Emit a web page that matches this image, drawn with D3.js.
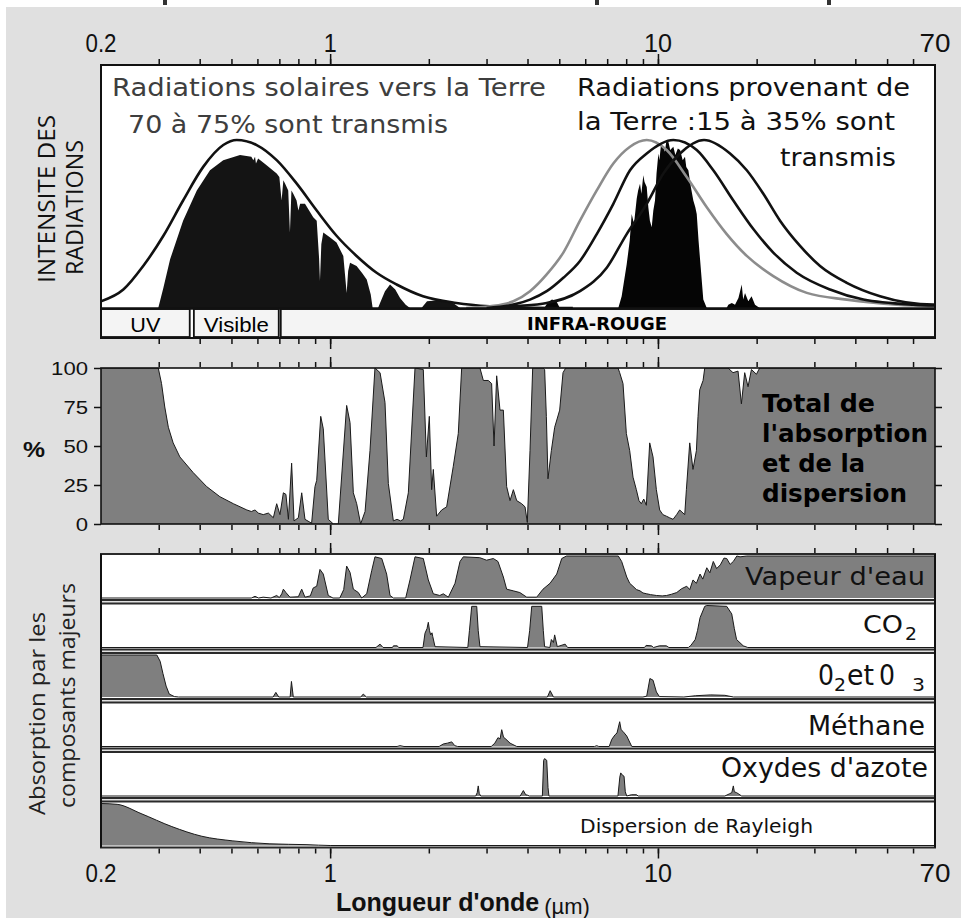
<!DOCTYPE html>
<html><head><meta charset="utf-8">
<script src="https://cdn.jsdelivr.net/npm/d3@7"></script>
<style>body{margin:0;background:#fff}svg{display:block}</style>
</head><body><svg id="c" width="961" height="918"></svg>
<script>
// ---------------- DATA (wavelength in µm, value in % of panel height) ----------------
const majorTicks = [0.2, 1, 10, 70];
const minorTicks = [0.3,0.4,0.5,0.6,0.7,0.8,0.9,1,2,3,4,5,6,7,8,9,10,20,30,40,50,60];
const longTicks = [1, 10];
const percentTicks = [0, 25, 50, 75, 100];
const bandNames = ["UV", "Visible", "INFRA-ROUGE"];
const bandStart = [0.2, 0.384, 0.707];
const bandEnd = [0.373, 0.697, 70];

const solarEnvelope = [[0.2,4],[0.234,11],[0.269,25],[0.31,43],[0.356,64],[0.41,84],[0.472,97],[0.519,100],[0.597,97],[0.687,88],[0.791,74],[0.91,58],[1.046,43],[1.204,31],[1.386,21],[1.595,14],[1.92,7],[2.428,3],[3.067,1],[3.876,0.3],[5.5,0]];
const solarTransmitted = [[0.299,0],[0.31,12],[0.325,29],[0.356,52],[0.392,70],[0.43,82],[0.472,88],[0.531,91],[0.575,90],[0.583,88],[0.59,90],[0.594,86],[0.603,89],[0.64,85],[0.687,80],[0.70,78],[0.711,64],[0.72,76],[0.729,74],[0.745,70],[0.754,45],[0.762,70],[0.772,68],[0.79,64],[0.80,58],[0.81,62],[0.838,62],[0.888,54],[0.91,52],[0.925,30],[0.931,16],[0.94,38],[0.953,45],[1.0,42],[1.046,39],[1.097,31],[1.11,20],[1.123,9],[1.135,22],[1.15,27],[1.204,25],[1.25,21],[1.293,17],[1.33,8],[1.348,0],[1.40,0],[1.42,3],[1.47,10],[1.523,14],[1.58,11],[1.634,6],[1.70,2],[1.752,0],[1.9,0],[1.975,4],[2.1,4.5],[2.25,4],[2.371,3],[2.49,0]];
const earthGray = [[2.6,0],[3.075,1],[3.622,4],[4.071,10],[4.578,20],[5.145,33],[5.783,52],[6.506,70],[7.309,86],[8.218,96],[9.242,100],[10.63,94],[12.24,78],[14.09,60],[16.21,44],[18.66,31],[22.48,19],[28.44,9],[37.66,5],[53.5,2],[70,1]];
const earthMid = [[3.0,0],[3.622,2],[4.071,5],[4.578,10],[5.145,18],[5.783,28],[6.506,44],[7.309,62],[8.218,82],[9.242,92],[11.14,100],[13.13,94],[14.75,82],[16.98,64],[19.54,47],[22.48,33],[26.5,21],[33.49,11],[42.32,5],[60.12,2],[70,1.5]];
const earthWarm = [[3.2,0],[3.622,1],[4.578,3],[5.783,10],[6.979,24],[8.029,44],[9.242,62],[10.38,80],[11.68,92],[13.82,100],[16.59,92],[18.66,82],[20.96,68],[23.57,52],[27.13,37],[31.22,25],[37.66,15],[47.58,7],[69.2,2],[70,2]];
const earthTransmitted = [[4.5,0],[4.6,3],[4.75,5],[4.9,4],[5.02,0],[7.569,0],[7.75,7],[8.029,26],[8.2,40],[8.316,56],[8.45,50],[8.613,65],[8.7,70],[8.815,74],[8.9,68],[9.022,79],[9.1,75],[9.242,72],[9.346,60],[9.45,52],[9.57,48],[9.68,58],[9.795,64],[9.9,80],[10.03,92],[10.1,88],[10.2,96],[10.38,96],[10.5,93],[10.6,99],[10.76,99],[10.9,94],[11.14,96],[11.3,91],[11.5,95],[11.68,94],[11.9,88],[12.09,90],[12.2,84],[12.38,82],[12.6,72],[12.82,64],[13.0,60],[13.13,56],[13.3,40],[13.44,29],[13.75,5],[14.09,0],[16.2,0],[16.39,2],[16.8,3],[17.18,2],[17.6,6],[18.01,14],[18.2,5],[18.43,9],[18.86,4],[19.3,7],[19.77,2],[20.43,0]];

const totalAbsorption = [[0.2,100],[0.299,100],[0.306,90],[0.313,75],[0.321,62],[0.332,52],[0.348,43],[0.382,33],[0.42,24],[0.461,17.5],[0.507,13],[0.557,9],[0.575,8],[0.59,9],[0.604,7],[0.625,6],[0.648,7],[0.671,4],[0.687,13],[0.703,6],[0.72,20],[0.733,19],[0.746,3],[0.763,39],[0.776,2],[0.80,4],[0.819,20],[0.838,3],[0.878,0.5],[0.899,24],[0.91,28],[0.936,69],[0.953,61],[0.987,3],[1.023,0],[1.059,0],[1.123,76],[1.15,65],[1.177,20],[1.205,13],[1.239,0],[1.278,8],[1.323,47],[1.37,100],[1.42,97],[1.47,78],[1.505,26],[1.559,2],[1.60,3],[1.64,2],[1.672,3],[1.732,20],[1.815,100],[1.924,99],[1.966,43],[2.007,69],[2.04,22],[2.064,35],[2.113,5],[2.189,9],[2.267,11],[2.375,37],[2.46,58],[2.519,100],[2.864,100],[2.933,92],[3.037,92],[3.109,90],[3.162,50],[3.221,95],[3.297,73],[3.376,73],[3.455,24],[3.538,15],[3.622,22],[3.707,15],[3.84,13],[3.931,11],[3.995,1],[4.071,47],[4.148,100],[4.46,100],[4.512,99],[4.566,69],[4.619,29],[4.729,47],[4.841,62],[5.014,73],[5.133,97],[5.23,100],[7.553,100],[7.642,97],[7.823,90],[8.009,58],[8.199,47],[8.393,30],[8.592,22],[8.75,15],[8.898,13],[9.05,16],[9.217,12],[9.436,52],[9.659,43],[9.888,22],[10.12,9],[10.35,6],[10.61,5],[10.85,4],[11.12,3],[11.4,6],[11.65,9],[12.07,6],[12.21,22],[12.5,52],[12.79,35],[13.1,47],[13.25,69],[13.41,86],[13.73,92],[13.89,100],[16.36,100],[16.94,97],[17.55,98],[17.97,77],[18.39,97],[18.83,88],[19.28,99],[19.97,96],[20.43,100],[70,100]];

const waterVapour = [[0.2,0],[0.575,0],[0.59,4],[0.605,0],[0.625,2],[0.66,0],[0.687,6],[0.70,1],[0.712,10],[0.72,21],[0.733,13],[0.754,2],[0.80,3],[0.819,21],[0.838,2],[0.87,5],[0.888,24],[0.91,28],[0.931,68],[0.953,57],[0.987,6],[1.02,0],[1.07,0],[1.10,20],[1.123,76],[1.15,61],[1.177,21],[1.219,13],[1.248,0],[1.293,10],[1.339,65],[1.37,98],[1.437,94],[1.487,57],[1.523,6],[1.56,0],[1.70,0],[1.752,43],[1.815,98],[1.924,94],[1.993,43],[2.064,10],[2.16,6],[2.214,10],[2.294,2],[2.404,35],[2.49,87],[2.548,98],[2.86,96],[3.0,90],[3.146,94],[3.25,87],[3.376,50],[3.455,21],[3.622,17],[3.79,13],[3.978,2],[4.267,2],[4.46,21],[4.686,35],[4.912,57],[5.087,94],[5.26,100],[7.569,100],[7.75,87],[8.03,50],[8.2,35],[8.39,28],[8.6,20],[8.815,17],[9.0,12],[9.242,10],[9.5,8],[9.888,6],[10.3,5],[10.63,6],[11.0,9],[11.41,13],[11.8,22],[12.24,28],[12.5,20],[12.79,43],[13.1,35],[13.44,57],[13.7,45],[14.09,72],[14.4,60],[14.75,87],[15.1,70],[15.5,79],[15.9,95],[16.21,94],[16.6,80],[16.98,87],[17.4,100],[17.8,98],[18.66,100],[70,100]];
const carbonDioxide = [[0.2,0],[1.38,0],[1.42,8],[1.45,0],[1.55,0],[1.56,4],[1.6,4],[1.62,0],[1.92,0],[1.947,34],[1.975,45],[1.993,60],[2.01,40],[2.027,30],[2.045,35],[2.056,26],[2.089,2],[2.63,0],[2.66,40],[2.703,98],[2.8,98],[2.83,40],[2.864,2],[4.0,0],[4.06,40],[4.12,98],[4.42,98],[4.47,40],[4.51,2],[4.68,0],[4.73,19],[4.8,12],[4.84,30],[4.93,2],[5.21,8],[5.3,0],[9.1,0],[9.2,5],[9.55,4],[9.7,0],[10.1,4],[10.6,4],[10.8,0],[12.38,0],[12.6,5],[12.99,19],[13.2,40],[13.44,71],[13.89,98],[14.09,100],[16.21,98],[16.79,80],[17.1,45],[17.37,19],[18.2,4],[18.8,0],[70,0]];
const oxygenOzone = [[0.2,100],[0.296,100],[0.303,85],[0.309,56],[0.316,26],[0.323,7],[0.335,1],[0.345,0],[0.67,0],[0.683,11],[0.697,0],[0.755,0],[0.762,37],[0.772,0],[1.24,0],[1.262,7],[1.29,0],[4.6,0],[4.69,15],[4.8,0],[9.0,0],[9.24,2],[9.45,44],[9.66,40],[9.89,12],[10.1,1],[12,0],[13.0,3],[14.5,5],[16.0,4],[17,0],[70,0]];
const methane = [[0.2,0],[1.6,0],[1.634,2],[1.68,0],[2.15,0],[2.214,6],[2.28,8],[2.349,11],[2.40,2],[2.45,0],[3.10,0],[3.18,8],[3.25,21],[3.30,18],[3.337,40],[3.38,22],[3.42,19],[3.538,8],[3.71,0],[6.4,0],[6.506,2],[6.6,0],[7.1,0],[7.23,17],[7.40,28],[7.50,32],[7.642,59],[7.72,40],[7.82,36],[8.03,25],[8.32,0],[70,0]];
const nitrogenOxides = [[0.2,0],[2.78,0],[2.81,8],[2.83,24],[2.85,6],[2.88,0],[3.8,0],[3.885,13],[3.95,3],[4.0,2],[4.05,0],[4.44,0],[4.48,85],[4.51,89],[4.578,85],[4.62,20],[4.65,0],[7.55,0],[7.65,45],[7.70,55],[7.78,50],[7.88,47],[7.95,10],[8.03,0],[8.3,3],[8.6,3],[8.7,0],[16.0,0],[16.5,5],[16.8,8],[16.98,24],[17.1,10],[17.37,8],[18.0,0],[70,0]];
const rayleigh = [[0.2,100],[0.224,98],[0.265,76],[0.329,45],[0.406,22],[0.505,11],[0.655,4],[0.85,2],[1.0,0],[70,0]];

// ---------------- DRAWING ----------------
const svg = d3.select("#c");
const x = d3.scaleLog().domain([0.2, 70]).range([101, 935]);
const defs = svg.append("defs");
function clip(id, x0, y0, w, h){ defs.append("clipPath").attr("id", id).append("rect").attr("x",x0).attr("y",y0).attr("width",w).attr("height",h); return `url(#${id})`; }

svg.append("rect").attr("width",961).attr("height",918).attr("fill","#fff");
svg.append("rect").attr("x",6).attr("y",7).attr("width",955).attr("height",911).attr("fill","#e0e0e0");
[165, 597, 829].forEach(px => svg.append("rect").attr("x",px-2).attr("y",0).attr("width",4).attr("height",5).attr("fill","#333"));

function edgeTicks(y, top){
  const gen = top ? d3.axisTop : d3.axisBottom;
  [[minorTicks,5],[longTicks,10]].forEach(([vals,len])=>{
    const g = svg.append("g").attr("transform",`translate(0,${y})`).call(gen(x).tickValues(vals).tickSize(len).tickFormat(""));
    g.select(".domain").remove();
    g.selectAll("line").attr("stroke","#111").attr("stroke-width",1.5);
  });
}
const tickLabelWidth = [31, 13, 28, 31];
function tickLabels(y){
  svg.append("g").selectAll("text").data(majorTicks).join("text")
    .attr("x", d => x(d)).attr("y", y).attr("text-anchor","middle")
    .attr("font-family","Liberation Sans, Arial, sans-serif").attr("font-size",26).attr("fill","#111")
    .attr("textLength", (d,i) => tickLabelWidth[i]).attr("lengthAdjust","spacingAndGlyphs")
    .text(d => String(d));
}

// ---- top panel ----
const yTop = d3.scaleLinear().domain([0,100]).range([308,140]);
svg.append("rect").attr("x",101).attr("y",65).attr("width",834).attr("height",273).attr("fill","#fff");
const topClip = clip("ctop", 101, 65, 834, 243);
const areaTop = d3.area().x(d=>x(d[0])).y0(yTop(0)).y1(d=>yTop(d[1]));
const gTop = svg.append("g").attr("clip-path", topClip);
gTop.append("path").datum(solarTransmitted).attr("d", areaTop).attr("fill","#141414");
gTop.append("path").datum(earthTransmitted).attr("d", areaTop).attr("fill","#050505");
const lineTop = d3.line().x(d=>x(d[0])).y(d=>yTop(d[1])).curve(d3.curveMonotoneX);
gTop.append("path").datum(solarEnvelope).attr("d", lineTop).attr("fill","none").attr("stroke","#111").attr("stroke-width",2.6);
gTop.append("path").datum(earthGray).attr("d", lineTop).attr("fill","none").attr("stroke","#8c8c8c").attr("stroke-width",2.6);
gTop.append("path").datum(earthMid).attr("d", lineTop).attr("fill","none").attr("stroke","#111").attr("stroke-width",2.6);
gTop.append("path").datum(earthWarm).attr("d", lineTop).attr("fill","none").attr("stroke","#111").attr("stroke-width",2.6);

// spectral band
bandNames.forEach((n,i)=>{
  svg.append("rect").attr("x", x(bandStart[i])).attr("y",309).attr("width", x(bandEnd[i])-x(bandStart[i])).attr("height",28)
    .attr("fill","#f4f4f4").attr("stroke","#111").attr("stroke-width",1.8);
});
svg.append("line").attr("x1",101).attr("x2",935).attr("y1",308.5).attr("y2",308.5).attr("stroke","#111").attr("stroke-width",2.5);
svg.append("text").attr("x",(x(bandStart[0])+x(bandEnd[0]))/2).attr("y",332).attr("text-anchor","middle")
  .attr("font-family","Liberation Sans, Arial, sans-serif").attr("font-size",21).attr("textLength",30).attr("lengthAdjust","spacingAndGlyphs").text(bandNames[0]);
svg.append("text").attr("x",(x(bandStart[1])+x(bandEnd[1]))/2).attr("y",332).attr("text-anchor","middle")
  .attr("font-family","Liberation Sans, Arial, sans-serif").attr("font-size",21).attr("textLength",65).attr("lengthAdjust","spacingAndGlyphs").text(bandNames[1]);
svg.append("text").attr("x",597).attr("y",330).attr("text-anchor","middle")
  .attr("font-family","DejaVu Sans, sans-serif").attr("font-weight","bold").attr("font-size",17).attr("textLength",140).attr("lengthAdjust","spacingAndGlyphs").text(bandNames[2]);
svg.append("rect").attr("x",101).attr("y",65).attr("width",834).attr("height",273).attr("fill","none").attr("stroke","#111").attr("stroke-width",2);
edgeTicks(64, true); edgeTicks(339, false);
tickLabels(52);

function txt(t, px, py, opts){
  const e = svg.append("text").attr("x",px).attr("y",py).text(t)
    .attr("font-family", opts.family || "DejaVu Sans, sans-serif").attr("font-size", opts.size).attr("fill", opts.fill || "#111");
  if (opts.weight) e.attr("font-weight", opts.weight);
  if (opts.anchor) e.attr("text-anchor", opts.anchor);
  if (opts.len) e.attr("textLength", opts.len).attr("lengthAdjust","spacingAndGlyphs");
  return e;
}
txt("Radiations solaires vers la Terre", 112, 96, {size:24, len:434, fill:"#3e3e3e"});
txt("70 à 75% sont transmis", 128, 133, {size:24, len:320, fill:"#3e3e3e"});
txt("Radiations provenant de", 577, 96, {size:24, len:333});
txt("la Terre :15 à 35% sont", 577, 130, {size:24, len:318});
txt("transmis", 780, 166, {size:24, len:116});

svg.append("text").attr("transform","translate(55,283) rotate(-90)").attr("font-family","Open Sans, DejaVu Sans, sans-serif")
  .attr("font-size",23).attr("fill","#111").attr("textLength",168).attr("lengthAdjust","spacingAndGlyphs").text("INTENSITE DES");
svg.append("text").attr("transform","translate(83,275) rotate(-90)").attr("font-family","Open Sans, DejaVu Sans, sans-serif")
  .attr("font-size",23).attr("fill","#111").attr("textLength",135).attr("lengthAdjust","spacingAndGlyphs").text("RADIATIONS");

// ---- middle panel ----
const yMid = d3.scaleLinear().domain([0,100]).range([524,368]);
svg.append("rect").attr("x",101).attr("y",368).attr("width",834).attr("height",156).attr("fill","#fff");
const midClip = clip("cmid", 101, 368, 834, 156);
const areaMid = d3.area().x(d=>x(d[0])).y0(yMid(0)).y1(d=>yMid(d[1]));
const lineMid = d3.line().x(d=>x(d[0])).y(d=>yMid(d[1]));
const gMid = svg.append("g").attr("clip-path", midClip);
gMid.append("path").datum(totalAbsorption).attr("d", areaMid).attr("fill","#7f7f7f");
gMid.append("path").datum(totalAbsorption).attr("d", lineMid).attr("fill","none").attr("stroke","#1a1a1a").attr("stroke-width",1);
svg.append("rect").attr("x",101).attr("y",368).attr("width",834).attr("height",156).attr("fill","none").attr("stroke","#111").attr("stroke-width",1.6);
edgeTicks(367, true); edgeTicks(525, false);
[[d3.axisLeft, 101],[d3.axisRight, 935]].forEach(([gen, px])=>{
  const g = svg.append("g").attr("transform",`translate(${px},0)`).call(gen(yMid).tickValues(percentTicks).tickSize(7).tickFormat(""));
  g.select(".domain").remove(); g.selectAll("line").attr("stroke","#111").attr("stroke-width",1.5);
});
svg.append("g").selectAll("text").data(percentTicks).join("text")
  .attr("x",88).attr("y", d=>yMid(d)+7).attr("text-anchor","end")
  .attr("font-family","Liberation Sans, Arial, sans-serif").attr("font-size",19).attr("fill","#111")
  .attr("textLength", d=>String(d).length*12.3).attr("lengthAdjust","spacingAndGlyphs").text(d=>String(d));
txt("%", 23, 457, {family:"Liberation Sans, Arial, sans-serif", size:22, weight:"bold", len:22});
["Total de","l'absorption","et de la","dispersion"].forEach((t,i)=>{
  txt(t, 762, 412 + i*30, {size:24.5, weight:"bold", len:[113,166,103,145][i], fill:"#000"});
});

// ---- component panels ----
const compSeries = [waterVapour, carbonDioxide, oxygenOzone, methane, nitrogenOxides, rayleigh];
const compTop = 554, compStep = 49.5, compH = 46;
compSeries.forEach((s, i) => {
  const t = compTop + i*compStep;
  const y = d3.scaleLinear().domain([0,100]).range([t+compH-2, t+2]);
  svg.append("rect").attr("x",101).attr("y",t).attr("width",834).attr("height",compH).attr("fill","#fff");
  const cp = clip("cc"+i, 101, t, 834, compH);
  const curve = i === 5 ? d3.curveMonotoneX : d3.curveLinear;
  const g = svg.append("g").attr("clip-path", cp);
  g.append("path").datum(s).attr("d", d3.area().x(d=>x(d[0])).y0(y(0)).y1(d=>y(d[1])).curve(curve)).attr("fill","#7f7f7f");
  g.append("path").datum(s).attr("d", d3.line().x(d=>x(d[0])).y(d=>y(d[1])).curve(curve)).attr("fill","none").attr("stroke","#1a1a1a").attr("stroke-width",1);
  svg.append("rect").attr("x",101).attr("y",t).attr("width",834).attr("height",compH).attr("fill","none").attr("stroke","#2a2a2a").attr("stroke-width",2);
});
svg.append("line").attr("x1",101).attr("x2",101).attr("y1",compTop).attr("y2",compTop+5*compStep+compH).attr("stroke","#111").attr("stroke-width",2);
svg.append("line").attr("x1",935).attr("x2",935).attr("y1",compTop).attr("y2",compTop+5*compStep+compH).attr("stroke","#111").attr("stroke-width",2);
edgeTicks(553, true); edgeTicks(compTop+5*compStep+compH+1, false);
tickLabels(882);

txt("Vapeur d'eau", 925, 585, {size:25, anchor:"end", len:180});
txt("CO", 863, 633, {size:25, len:40});
txt("2", 905, 640, {size:17, len:12});
txt("0", 818, 685, {size:28, len:16});
txt("2", 834, 691, {size:18, len:12});
txt("et", 847, 685, {size:28, len:27});
txt("0", 879, 685, {size:28, len:16});
txt("3", 912, 691, {size:18, len:13});
txt("Méthane", 925, 735, {size:26, anchor:"end", len:117});
txt("Oxydes d'azote", 928, 777, {size:26, anchor:"end", len:207});
txt("Dispersion de Rayleigh", 580, 833, {size:20, len:233});

svg.append("text").attr("transform","translate(45,815) rotate(-90)").attr("font-family","Open Sans, DejaVu Sans, sans-serif")
  .attr("font-size",22).attr("fill","#222").attr("textLength",203).attr("lengthAdjust","spacingAndGlyphs").text("Absorption par les");
svg.append("text").attr("transform","translate(75,808) rotate(-90)").attr("font-family","Open Sans, DejaVu Sans, sans-serif")
  .attr("font-size",22).attr("fill","#222").attr("textLength",225).attr("lengthAdjust","spacingAndGlyphs").text("composants majeurs");

// x-axis title (one text element, two styled runs)
const title = svg.append("text").attr("x",336).attr("y",911).attr("font-family","Liberation Sans, Arial, sans-serif").attr("fill","#111");
title.append("tspan").attr("font-weight","bold").attr("font-size",25).text("Longueur d'onde");
title.append("tspan").attr("font-size",22).attr("dx",5).attr("dy",3).text("(µm)");
</script></body></html>
